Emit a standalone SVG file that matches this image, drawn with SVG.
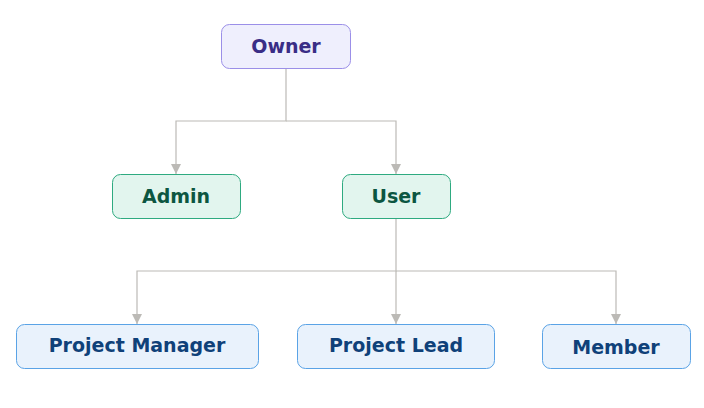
<svg xmlns="http://www.w3.org/2000/svg" width="704" height="408" viewBox="0 0 704 408">
<style>
text{font-family:"DejaVu Sans",sans-serif;font-weight:bold;font-size:19px;text-anchor:middle;dominant-baseline:central}
.p rect{fill:#efeffd;stroke:#9b8fe8}.p text{fill:#3a2d86}
.g rect{fill:#e2f5ee;stroke:#2eaa80}.g text{fill:#0c5641}
.b rect{fill:#e9f2fc;stroke:#5aa3e6}.b text{fill:#0f4179}
#edges path{fill:none;stroke:#bcbab6;stroke-width:1.2}
</style>
<defs><marker id="a" viewBox="0 0 10 10" refX="10" refY="5" markerWidth="10" markerHeight="10" markerUnits="userSpaceOnUse" orient="auto"><path d="M0,0L10,5L0,10z" fill="#bcbab6"/></marker></defs>
<g id="edges">
<path d="M286,68V121H176V174" marker-end="url(#a)"/>
<path d="M286,121H396V174" marker-end="url(#a)"/>
<path d="M396,218V271H137V324" marker-end="url(#a)"/>
<path d="M396,271V324" marker-end="url(#a)"/>
<path d="M396,271H616V324" marker-end="url(#a)"/>
</g>
<g id="owner" class="p"><rect x="221.5" y="24.5" width="129" height="44" rx="8"/><text x="286" y="46">Owner</text></g>
<g id="admin" class="g"><rect x="112.5" y="174.5" width="128" height="44" rx="8"/><text x="176" y="196">Admin</text></g>
<g id="user" class="g"><rect x="342.5" y="174.5" width="108" height="44" rx="8"/><text x="396" y="196">User</text></g>
<g id="pm" class="b"><rect x="16.5" y="324.5" width="242" height="44" rx="8"/><text x="137" y="345">Project Manager</text></g>
<g id="pl" class="b"><rect x="297.5" y="324.5" width="197" height="44" rx="8"/><text x="396" y="345">Project Lead</text></g>
<g id="member" class="b"><rect x="542.5" y="324.5" width="148" height="44" rx="8"/><text x="616" y="347">Member</text></g>
</svg>
